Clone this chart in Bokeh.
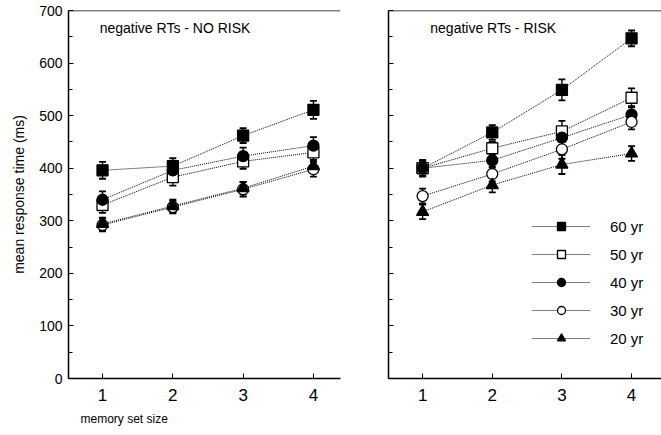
from bokeh.plotting import figure
from bokeh.models import (Range1d, Span, Whisker, ColumnDataSource, Legend, LegendItem, Title,
                          FixedTicker, Label, CustomJSTickFormatter)
from bokeh.layouts import row
from bokeh.embed import file_html
from bokeh.resources import INLINE

set_size = [1, 2, 3, 4]
groups = ["60 yr", "50 yr", "40 yr", "30 yr", "20 yr"]
markers = ["square", "square", "circle", "circle", "triangle"]
fills = ["black", "white", "black", "white", "black"]

no_risk = {
    "60 yr": [396, 404, 462, 511],
    "50 yr": [330, 383, 413, 430],
    "40 yr": [340, 396, 423, 443],
    "30 yr": [292, 326, 360, 398],
    "20 yr": [294, 328, 362, 404],
}
no_risk_err = {
    "60 yr": [16, 15, 14, 17],
    "50 yr": [15, 16, 14, 14],
    "40 yr": [16, 15, 16, 16],
    "30 yr": [12, 12, 14, 14],
    "20 yr": [12, 12, 12, 12],
}
risk = {
    "60 yr": [400, 468, 549, 647],
    "50 yr": [400, 438, 470, 534],
    "40 yr": [400, 415, 458, 502],
    "30 yr": [347, 389, 436, 488],
    "20 yr": [317, 368, 407, 428],
}
risk_err = {
    "60 yr": [16, 14, 20, 15],
    "50 yr": [14, 12, 20, 18],
    "40 yr": [14, 14, 18, 16],
    "30 yr": [14, 14, 18, 14],
    "20 yr": [14, 14, 18, 14],
}

FONT = "Liberation Sans"


def make_panel(title, title_x, data, err, show_labels, width, border_left, border_right,
               xr, with_legend):
    p = figure(width=width, height=435, output_backend="svg", toolbar_location=None,
               x_range=Range1d(*xr), y_range=Range1d(0, 700))
    p.min_border_left = border_left
    p.min_border_right = border_right
    p.min_border_top = 10
    p.min_border_bottom = 57
    p.outline_line_color = None
    p.xgrid.grid_line_color = None
    p.ygrid.grid_line_color = None
    p.background_fill_color = "white"
    p.border_fill_color = "white"

    for ax in (p.xaxis, p.yaxis):
        ax.axis_line_color = "black"
        ax.axis_line_width = 1.5
        ax.major_tick_line_color = "black"
        ax.minor_tick_line_color = "black"
        ax.major_label_text_color = "black"
        ax.major_label_text_font = FONT

    p.xaxis.ticker = FixedTicker(ticks=set_size)
    p.xaxis.major_tick_in = 5
    p.xaxis.major_tick_out = 0
    p.xaxis.minor_tick_line_color = None
    p.xaxis.major_label_text_font_size = "17px"
    p.xaxis.major_label_standoff = 10

    p.yaxis.ticker = FixedTicker(ticks=list(range(0, 701, 100)),
                                 minor_ticks=list(range(50, 700, 100)))
    p.yaxis.major_tick_in = 5
    p.yaxis.major_tick_out = 0
    p.yaxis.minor_tick_in = 4
    p.yaxis.minor_tick_out = 0
    p.yaxis.major_label_text_font_size = "14px"
    p.yaxis.major_label_standoff = 6
    if show_labels:
        p.yaxis.axis_label = "mean response time (ms)"
        p.yaxis.axis_label_text_font = FONT
        p.yaxis.axis_label_text_color = "black"
        p.yaxis.axis_label_text_font_style = "normal"
        p.yaxis.axis_label_text_font_size = "14px"
        p.yaxis.axis_label_standoff = 9
    else:
        p.yaxis.formatter = CustomJSTickFormatter(code="return ''")
        p.yaxis.major_label_standoff = 0

    p.add_layout(Span(location=700, dimension="width", line_color="black", line_width=1.5))

    p.add_layout(Label(x=title_x, y=666, text=title, text_font=FONT, text_font_size="14px",
                       text_color="black", text_baseline="middle"))

    items = []
    for g, m, f in zip(groups, markers, fills):
        ys = data[g]
        es = err[g]
        src = ColumnDataSource(dict(x=set_size, y=ys,
                                    lo=[a - b for a, b in zip(ys, es)],
                                    hi=[a + b for a, b in zip(ys, es)]))
        w = Whisker(source=src, base="x", lower="lo", upper="hi", line_color="black",
                    line_width=1.4)
        w.upper_head.size = 7
        w.lower_head.size = 7
        w.upper_head.line_width = 1.8
        w.lower_head.line_width = 1.8
        p.add_layout(w)
        ln = p.line("x", "y", source=src, line_color="black", line_width=1,
                    line_dash="1 1")
        sc = p.scatter("x", "y", source=src, marker=m, size=11 if m != "triangle" else 12,
                       fill_color=f, line_color="black", line_width=1.3)
        items.append(LegendItem(label=g, renderers=[ln, sc]))

    if with_legend:
        leg = Legend(items=items, location=(144, 30), glyph_width=58, glyph_height=20,
                     label_height=20, spacing=8, label_standoff=20, padding=0, margin=0,
                     border_line_color=None, background_fill_alpha=0,
                     label_text_font=FONT, label_text_font_size="15px",
                     label_text_color="black")
        p.add_layout(leg)
    if show_labels:
        t = Title(text="memory set size", align="left", offset=12,
                  text_font=FONT, text_font_size="12px", text_color="black",
                  text_font_style="normal")
        t.standoff = 13
        p.add_layout(t, "below")
    return p


p1 = make_panel("negative RTs - NO RISK", 0.96, no_risk, no_risk_err, True, 360, 68, 20,
                (0.516, 4.385), False)
p2 = make_panel("negative RTs - RISK", 1.11, risk, risk_err, False, 301, 28, 0,
                (0.51, 4.43), True)

layout = row(p1, p2)
open("out.html", "w").write(file_html(layout, INLINE))
